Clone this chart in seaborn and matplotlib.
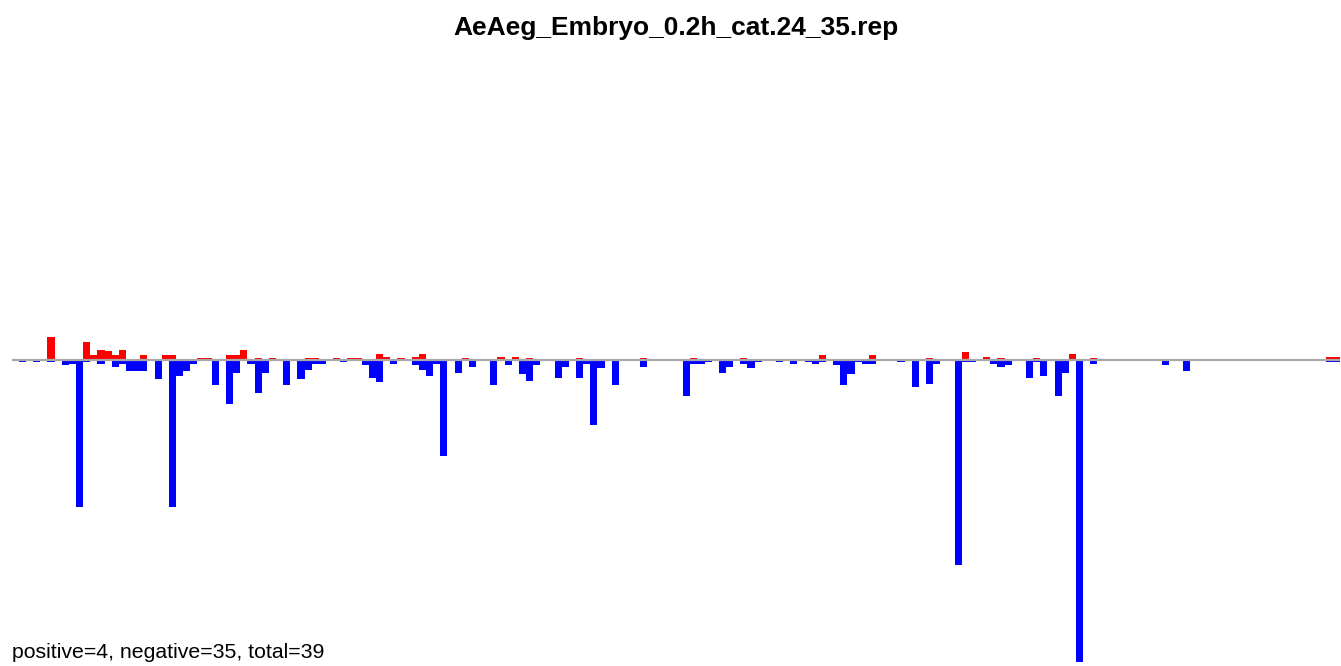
import numpy as np
import pandas as pd
import seaborn as sns
from matplotlib import pyplot as plt

title = 'AeAeg_Embryo_0.2h_cat.24_35.rep'
footer = 'positive=4, negative=35, total=39'
n_bins = 186

# positive counts (red), by bin index
pos_bins = [5, 10, 11, 12, 13, 14, 15, 18, 21, 22, 26, 27, 30, 31, 32, 34, 36, 41, 42, 45,
            47, 48, 51, 52, 54, 56, 57, 63, 68, 70, 72, 79, 88, 95, 102, 113, 120, 128, 133,
            136, 138, 143, 148, 151, 184, 185]
pos_vals = [23, 18, 5, 10, 9, 5, 10, 5, 5, 5, 2, 2, 5, 5, 10, 2, 2, 2, 2, 2,
            2, 2, 6, 3, 2, 3, 6, 2, 3, 3, 2, 2, 2, 2, 2, 5, 5, 2, 8,
            3, 2, 2, 6, 2, 3, 3]

# negative counts (blue), by bin index
neg_bins = [1, 3, 5, 7, 8, 9, 10, 12, 13, 14, 15, 16, 17, 18, 20, 22, 23, 24, 25, 28,
            29, 30, 31, 33, 34, 35, 38, 40, 41, 42, 43, 46, 49, 50, 51, 53, 56, 57, 58, 59,
            60, 62, 64, 67, 69, 71, 72, 73, 74, 75, 76, 77, 79, 80, 81, 82, 84, 88, 94, 95,
            96, 97, 99, 100, 102, 103, 104, 107, 109, 111, 112, 113, 115, 116, 117, 118, 119, 120, 124, 126,
            128, 129, 131, 132, 133, 134, 137, 138, 139, 142, 143, 144, 145, 146, 147, 149, 151, 161, 164, 184,
            185]
neg_vals = [2, 2, 2, 5, 4, 147, 2, 4, 1, 7, 4, 11, 11, 11, 19, 147, 16, 11, 4, 25,
            1, 44, 13, 4, 33, 13, 25, 19, 10, 4, 4, 2, 5, 18, 22, 4, 5, 10, 16, 4,
            96, 13, 7, 25, 5, 14, 21, 5, 1, 1, 18, 7, 18, 4, 65, 8, 25, 7, 36, 4,
            4, 2, 13, 7, 4, 8, 2, 2, 4, 2, 4, 2, 5, 25, 14, 2, 4, 4, 2, 27,
            24, 4, 1, 205, 2, 2, 4, 7, 5, 18, 2, 16, 1, 36, 13, 302, 4, 5, 11, 2,
            2]

pos = np.zeros(n_bins)
neg = np.zeros(n_bins)
pos[pos_bins] = pos_vals
neg[neg_bins] = neg_vals
df = pd.DataFrame({'bin': np.arange(n_bins), 'pos': pos, 'neg': -neg})

sns.set_style('white')
plt.rcParams['font.family'] = ['Liberation Sans', 'DejaVu Sans']
plt.rcParams['text.color'] = 'black'

fig = plt.figure(figsize=(13.41, 6.66), dpi=100)
ax = fig.add_axes([11.7 / 1341, 4.5 / 666, 1328.6 / 1341, 604 / 666])

order = list(range(n_bins))
sns.barplot(data=df, x='bin', y='pos', order=order, color='#ff0000', saturation=1,
            width=1, linewidth=0, errorbar=None, ax=ax)
sns.barplot(data=df, x='bin', y='neg', order=order, color='#0000ff', saturation=1,
            width=1, linewidth=0, errorbar=None, ax=ax)
ax.axhline(0, color='#a8a8a8', lw=1.6, zorder=5)

ax.set_xlim(-0.5, n_bins - 0.5)
ax.set_ylim(-302, 302)
ax.axis('off')

fig.text(676 / 1341, 1 - 28 / 666, title, ha='center', va='center',
         fontsize=19, fontweight='bold')
fig.text(12 / 1341, 1 - 653 / 666, footer, ha='left', va='center', fontsize=15.3)

fig.savefig('out.png', dpi=100)
